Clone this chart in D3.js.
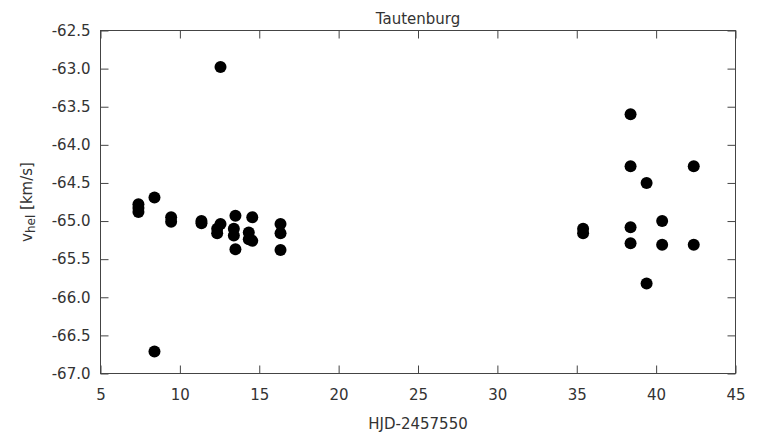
<!DOCTYPE html>
<html><head><meta charset="utf-8">
<script src="https://cdn.jsdelivr.net/npm/d3@7"></script>
<style>
html,body{margin:0;padding:0;background:#fff;}
text{font-family:"DejaVu Sans",sans-serif;fill:#333;}
</style></head>
<body>
<svg id="c" width="760" height="435"></svg>
<script>
const hjd = [7.39,7.39,7.39,8.4,8.4,9.45,9.45,11.36,11.36,12.56,12.56,12.35,12.35,13.5,13.4,13.4,13.5,14.56,14.34,14.56,14.34,16.34,16.34,16.34,
  35.4,35.4,38.39,38.39,42.37,39.4,38.39,40.38,38.39,40.38,42.37,39.4];
const vhel = [-64.78,-64.83,-64.88,-64.69,-66.71,-64.95,-65.01,-65.0,-65.03,-62.98,-65.04,-65.1,-65.16,-64.93,-65.1,-65.19,-65.37,-64.95,-65.15,-65.26,-65.24,-65.04,-65.16,-65.38,
  -65.1,-65.16,-63.6,-64.28,-64.28,-64.5,-65.08,-65.0,-65.29,-65.31,-65.31,-65.82];
const xTicks = [5,10,15,20,25,30,35,40,45];
const yTicks = [-62.5,-63.0,-63.5,-64.0,-64.5,-65.0,-65.5,-66.0,-66.5,-67.0];
const title = "Tautenburg";
const xLabel = "HJD-2457550";

const L=100.5,R=735.5,T=30.5,B=373.5;
const FS="15px";
const svg=d3.select("#c");
const x=d3.scaleLinear().domain([5,45]).range([L,R]);
const y=d3.scaleLinear().domain([-67,-62.5]).range([B,T]);
const axCol="#444", tl=8;
const hy = f => d => f(d).replace("\u2212","-");

function style(g){g.select(".domain").remove();g.selectAll("line").attr("stroke",axCol);
  g.selectAll("text").style("font-size",FS).style("font-family","DejaVu Sans").attr("fill","#333");}

svg.append("g").attr("transform",`translate(0,${B})`)
  .call(d3.axisBottom(x).tickValues(xTicks).tickFormat(hy(d3.format("d"))).tickSizeInner(-tl).tickSizeOuter(0).tickPadding(16))
  .call(style);
svg.append("g").attr("transform",`translate(0,${T})`)
  .call(d3.axisTop(x).tickValues(xTicks).tickFormat("").tickSizeInner(-tl).tickSizeOuter(0))
  .call(style);
svg.append("g").attr("transform",`translate(${L},0)`)
  .call(d3.axisLeft(y).tickValues(yTicks).tickFormat(hy(d3.format(".1f"))).tickSizeInner(-tl).tickSizeOuter(0).tickPadding(10))
  .call(style);
svg.append("g").attr("transform",`translate(${R},0)`)
  .call(d3.axisRight(y).tickValues(yTicks).tickFormat("").tickSizeInner(-tl).tickSizeOuter(0))
  .call(style);
svg.append("rect").attr("x",L).attr("y",T).attr("width",R-L).attr("height",B-T)
  .attr("fill","none").attr("stroke",axCol).attr("stroke-width",1);

svg.append("g").selectAll("circle").data(hjd.map((d,i)=>[d,vhel[i]])).join("circle")
  .attr("cx",d=>x(d[0])).attr("cy",d=>y(d[1])).attr("r",6).attr("fill","#000");

svg.append("text").attr("x",(L+R)/2).attr("y",24).attr("text-anchor","middle").style("font-size",FS).text(title);
svg.append("text").attr("x",(L+R)/2).attr("y",429).attr("text-anchor","middle").style("font-size",FS).text(xLabel);
const yl=svg.append("text").attr("transform",`translate(32,${(T+B)/2}) rotate(-90)`).attr("text-anchor","middle").style("font-size",FS);
yl.append("tspan").text("v");
yl.append("tspan").attr("dy",3).style("font-size","12px").text("hel");
yl.append("tspan").attr("dy",-3).text(" [km/s]");
</script>
</body></html>
